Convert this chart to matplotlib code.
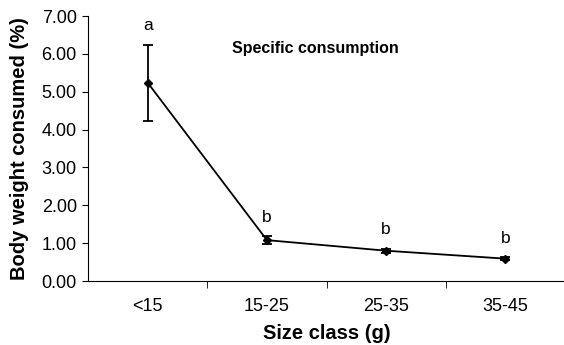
import matplotlib
matplotlib.use("Agg")
import matplotlib.pyplot as plt
import numpy as np

plt.rcParams['font.family'] = ['Liberation Sans', 'DejaVu Sans']

size_classes = ['<15', '15-25', '25-35', '35-45']
consumed = [5.24, 1.08, 0.80, 0.59]
errors = [1.00, 0.10, 0.05, 0.04]
letters = ['a', 'b', 'b', 'b']

fig = plt.figure(figsize=(5.64, 3.45), dpi=100)
ax = fig.add_axes([0.156, 0.1855, 0.846, 0.768])

x = np.arange(len(size_classes))
ax.errorbar(x, consumed, yerr=errors, color='black', lw=1.3, marker='D',
            markersize=4, capsize=3.5, capthick=1.3, elinewidth=1.3)

for xi, v, e, l in zip(x, consumed, errors, letters):
    ax.text(xi, v + e + 0.3, l, ha='center', va='bottom', fontsize=12.5)

ax.text(0.71, 6.15, 'Specific consumption', ha='left', va='center',
        fontsize=11.5, fontweight='bold')

ax.set_xlim(-0.5, 3.5)
ax.set_ylim(0, 7)
ax.set_yticks(np.arange(0, 7.01, 1))
ax.set_yticklabels([f'{v:.2f}' for v in np.arange(0, 7.01, 1)], fontsize=13)
ax.set_xticks(x)
ax.set_xticklabels(size_classes, fontsize=13)
ax.tick_params(axis='x', which='major', length=0, pad=12)
ax.set_xticks([0.5, 1.5, 2.5], minor=True)
ax.tick_params(axis='x', which='minor', length=5, direction='out')
ax.tick_params(axis='y', length=4, direction='out', pad=4)

ax.spines['top'].set_visible(False)
ax.spines['right'].set_visible(False)

ax.set_xlabel('Size class (g)', fontsize=14.5, fontweight='bold', labelpad=7)
ax.set_ylabel('Body weight consumed (%)', fontsize=14.5, fontweight='bold', labelpad=9)

fig.savefig('out.png', dpi=100)
